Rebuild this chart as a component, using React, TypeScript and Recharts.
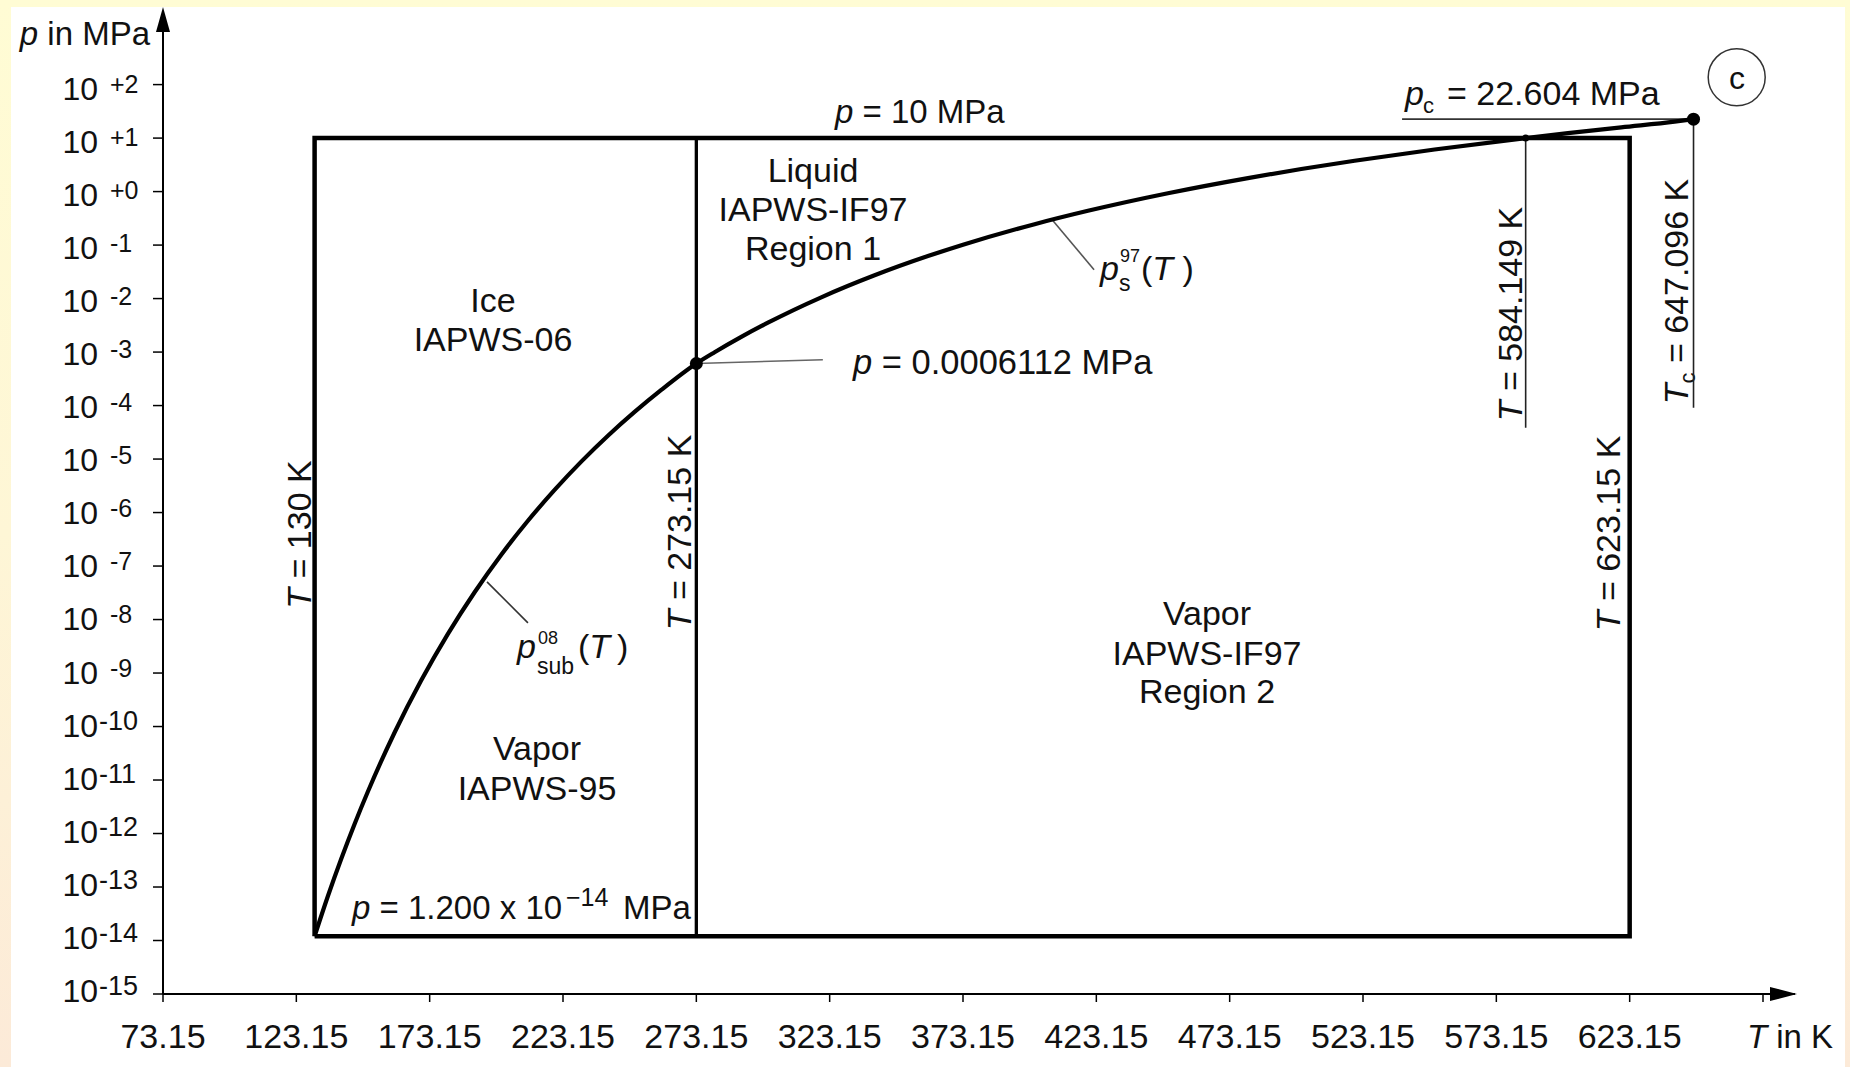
import React from 'react';
import { ComposedChart, Line, XAxis, YAxis, ReferenceDot, Customized } from 'recharts';

const FONT = '"Liberation Sans", Arial, Helvetica, sans-serif';
const INK = '#111';

// Phase boundary: sublimation curve (130 K .. triple point) + saturation curve (.. critical point); T in K, p in MPa
const curveT = [130, 135, 140, 145, 150, 160, 170, 180, 190, 200, 210, 220, 230, 240, 250, 260, 273.16,
  280, 290, 300, 320, 340, 360, 373.15, 400, 420, 450, 480, 500, 520, 550, 584.149, 600, 620, 640, 647.096];
const curveP = [1.2e-14, 6.78e-14, 3.37e-13, 1.51e-12, 6.11e-12, 7.74e-11, 7.31e-10, 5.4e-9, 3.24e-8, 1.63e-7,
  7.02e-7, 2.65e-6, 8.95e-6, 2.73e-5, 7.6e-5, 1.96e-4, 6.112e-4,
  9.92e-4, 1.92e-3, 3.54e-3, 1.055e-2, 2.72e-2, 6.22e-2, 0.1014, 0.2458, 0.4373, 0.932, 1.79, 2.64, 3.77, 6.12,
  10.0, 12.35, 15.9, 20.27, 22.604];

// Validity box of the library: 130 K .. 623.15 K, 1.2e-14 MPa .. 10 MPa
const boxT = [130, 130, 623.15, 623.15, 130];
const boxP = [1.2e-14, 10, 10, 1.2e-14, 1.2e-14];

// T = 273.15 K divider
const dividerT = [273.15, 273.15];
const dividerP = [1.2e-14, 10];

// Marked points: triple point, 584.149 K at 10 MPa, critical point
const markT = [273.16, 584.149, 647.096];
const markP = [6.112e-4, 10, 22.604];

// Leader lines of annotations
const leadTripleT = [273.16, 320.6];
const leadTripleP = [6.112e-4, 7.2e-4];
const leadSubT = [194.65, 210];
const leadSubP = [5.07e-8, 8.67e-9];
const leadSatT = [406.5, 422.3];
const leadSatP = [0.3, 0.0347];
const lead584T = [584.149, 584.149];
const lead584P = [10, 3.85e-5];
const leadTcT = [647.096, 647.096];
const leadTcP = [22.604, 9.1e-5];
const leadPcT = [537.8, 647.096];
const leadPcP = [22.604, 22.604];

// Axes
const xTicks = [73.15, 123.15, 173.15, 223.15, 273.15, 323.15, 373.15, 423.15, 473.15, 523.15, 573.15, 623.15, 673.15];
const xTickLabels = ['73.15', '123.15', '173.15', '223.15', '273.15', '323.15', '373.15', '423.15', '473.15', '523.15', '573.15', '623.15', ''];
const yTicks = [1e-15, 1e-14, 1e-13, 1e-12, 1e-11, 1e-10, 1e-9, 1e-8, 1e-7, 1e-6, 1e-5, 1e-4, 1e-3, 1e-2, 1e-1, 1e0, 1e1, 1e2];
const yTickExp = ['-15', '-14', '-13', '-12', '-11', '-10', '-9', '-8', '-7', '-6', '-5', '-4', '-3', '-2', '-1', '+0', '+1', '+2'];

const rows = (ts: number[], ps: number[]) => ts.map((T, i) => ({ T, p: ps[i] }));

const XTick = (props: any) => {
  const { x, index } = props;
  const label = xTickLabels[index];
  if (!label) {
    return (
      <text x={x + 27} y={1048} textAnchor="middle" fontFamily={FONT} fontSize={33} fill={INK}>
        <tspan fontStyle="italic">T</tspan> in K
      </text>
    );
  }
  return (
    <text x={x} y={1048} textAnchor="middle" fontFamily={FONT} fontSize={34} fill={INK}>
      {label}
    </text>
  );
};

const YTick = (props: any) => {
  const { y, index } = props;
  const e = yTickExp[index];
  const base = y + 8 + index * 0.42;
  const wide = e.length > 2;
  return (
    <text x={98} y={base} textAnchor="end" fontFamily={FONT} fill={INK} fontSize={32}>
      10
      <tspan x={wide ? 99 : 110} y={base - 7} textAnchor="start" fontSize={wide ? 27 : 25}>{e}</tspan>
    </text>
  );
};

const UpArrow = (props: any) => {
  const { cx, cy } = props;
  return <polygon points={`${cx},${cy - 8} ${cx - 7},${cy + 17} ${cx + 7},${cy + 17}`} fill="#000" />;
};
const RightArrow = (props: any) => {
  const { cx, cy } = props;
  return <polygon points={`${cx + 2},${cy} ${cx - 25},${cy - 7} ${cx - 25},${cy + 7}`} fill="#000" />;
};

const Annotations = () => (
  <g fontFamily={FONT} fill={INK}>
    <text x={150} y={45} fontSize={33} textAnchor="end">
      <tspan fontStyle="italic">p</tspan> in MPa
    </text>

    {/* region labels */}
    <text x={493} y={312} fontSize={34} textAnchor="middle">Ice</text>
    <text x={493} y={351} fontSize={34} textAnchor="middle">IAPWS-06</text>
    <text x={813} y={182} fontSize={34} textAnchor="middle">Liquid</text>
    <text x={813} y={221} fontSize={34} textAnchor="middle">IAPWS-IF97</text>
    <text x={813} y={260} fontSize={34} textAnchor="middle">Region 1</text>
    <text x={537} y={760} fontSize={34} textAnchor="middle">Vapor</text>
    <text x={537} y={800} fontSize={34} textAnchor="middle">IAPWS-95</text>
    <text x={1207} y={625} fontSize={34} textAnchor="middle">Vapor</text>
    <text x={1207} y={665} fontSize={34} textAnchor="middle">IAPWS-IF97</text>
    <text x={1207} y={703} fontSize={34} textAnchor="middle">Region 2</text>

    {/* pressure annotations */}
    <text x={835} y={123} fontSize={33}>
      <tspan fontStyle="italic">p</tspan> = 10 MPa
    </text>
    <text x={853} y={374} fontSize={34.5}>
      <tspan fontStyle="italic">p</tspan> = 0.0006112 MPa
    </text>
    <text x={352} y={919} fontSize={33}>
      <tspan fontStyle="italic">p</tspan> = 1.200 x 10
      <tspan x={566} y={906} fontSize={25}>{'\u221214'}</tspan>
      <tspan x={623} y={919}>MPa</tspan>
    </text>

    <text x={1405} y={105} fontSize={34}>
      <tspan fontStyle="italic">p</tspan>
      <tspan x={1423} y={113} fontSize={22}>c</tspan>
      <tspan x={1447} y={105}>= 22.604 MPa</tspan>
    </text>

    {/* curve labels */}
    <text x={517} y={658} fontSize={34}>
      <tspan fontStyle="italic">p</tspan>
      <tspan x={538} y={644} fontSize={18}>08</tspan>
      <tspan x={537} y={674} fontSize={23}>sub</tspan>
      <tspan x={578} y={658}>(</tspan>
      <tspan fontStyle="italic">T</tspan>
      <tspan>{'\u2009'})</tspan>
    </text>

    <text x={1100} y={280} fontSize={34}>
      <tspan fontStyle="italic">p</tspan>
      <tspan x={1120} y={262} fontSize={18}>97</tspan>
      <tspan x={1119} y={291} fontSize={23}>s</tspan>
      <tspan x={1141} y={280}>(</tspan>
      <tspan fontStyle="italic">T</tspan>
      <tspan> )</tspan>
    </text>

    {/* rotated temperature labels */}
    <text x={311} y={534.5} fontSize={34} textAnchor="middle" transform="rotate(-90 311 534.5)">
      <tspan fontStyle="italic">T</tspan> = 130 K
    </text>
    <text x={691} y={532.5} fontSize={34} textAnchor="middle" transform="rotate(-90 691 532.5)">
      <tspan fontStyle="italic">T</tspan> = 273.15 K
    </text>
    <text x={1620} y={533.5} fontSize={34} textAnchor="middle" transform="rotate(-90 1620 533.5)">
      <tspan fontStyle="italic">T</tspan> = 623.15 K
    </text>
    <text x={1522} y={314} fontSize={34} textAnchor="middle" transform="rotate(-90 1522 314)">
      <tspan fontStyle="italic">T</tspan> = 584.149 K
    </text>
    <text x={1688} y={291.5} fontSize={34} textAnchor="middle" transform="rotate(-90 1688 291.5)">
      <tspan fontStyle="italic">T</tspan>
      <tspan fontSize={22} dy={7}>c</tspan>
      <tspan dy={-7}> = 647.096 K</tspan>
    </text>

    {/* critical point marker */}
    <circle cx={1736.7} cy={77.3} r={28.5} fill="none" stroke="#333" strokeWidth={1.5} />
    <text x={1737} y={89} fontSize={32} textAnchor="middle">c</text>
  </g>
);

const leaders = [
  rows(leadTripleT, leadTripleP),
  rows(leadSubT, leadSubP),
  rows(leadSatT, leadSatP),
  rows(lead584T, lead584P),
  rows(leadTcT, leadTcP),
  rows(leadPcT, leadPcP),
];
const leaderColor = ['#666', '#333', '#555', '#222', '#222', '#333'];

export default function App() {
  return (
    <div style={{ position: 'absolute', left: 0, top: 0, width: 1850, height: 1067,
      background: 'linear-gradient(to bottom, #FFFCD4 0%, #FEF6D6 50%, #FCEAD8 100%)' }}>
      <div style={{ position: 'absolute', left: 11, top: 7, width: 1834, height: 1060, background: '#fff' }} />
      <div style={{ position: 'absolute', left: 0, top: 0 }}>
        <ComposedChart width={1850} height={1067} margin={{ top: 15, right: 55, bottom: 0, left: 0 }}>
          <XAxis type="number" dataKey="T" domain={[73.15, 685.15]} ticks={xTicks} interval={0}
            allowDataOverflow height={73} tickSize={8}
            axisLine={{ stroke: '#000', strokeWidth: 2 }} tickLine={{ stroke: '#000', strokeWidth: 1.5 }}
            tick={<XTick />} />
          <YAxis type="number" dataKey="p" scale="log" domain={[1e-15, 2000]} ticks={yTicks} interval={0}
            allowDataOverflow width={163} tickSize={10}
            axisLine={{ stroke: '#000', strokeWidth: 2 }} tickLine={{ stroke: '#000', strokeWidth: 1.5 }}
            tick={<YTick />} />

          <Customized component={<Annotations />} />

          <Line data={rows(boxT, boxP)} dataKey="p" type="linear" stroke="#000" strokeWidth={4.5}
            strokeLinejoin="miter" dot={false} activeDot={false} isAnimationActive={false} legendType="none" />
          <Line data={rows(dividerT, dividerP)} dataKey="p" type="linear" stroke="#000" strokeWidth={3.3}
            dot={false} activeDot={false} isAnimationActive={false} legendType="none" />
          {leaders.map((d, i) => (
            <Line key={i} data={d} dataKey="p" type="linear" stroke={leaderColor[i]} strokeWidth={1.6}
              dot={false} activeDot={false} isAnimationActive={false} legendType="none" />
          ))}
          <Line data={rows(curveT, curveP)} dataKey="p" type="monotone" stroke="#000" strokeWidth={4.2}
            dot={false} activeDot={false} isAnimationActive={false} legendType="none" />

          {markT.map((T, i) => (
            <ReferenceDot key={i} x={T} y={markP[i]} r={i === 1 ? 3.5 : 6.5} fill="#000" stroke="none" ifOverflow="visible" />
          ))}
          <ReferenceDot x={73.15} y={2000} r={1} shape={<UpArrow />} ifOverflow="visible" />
          <ReferenceDot x={685.15} y={1e-15} r={1} shape={<RightArrow />} ifOverflow="visible" />
        </ComposedChart>
      </div>
    </div>
  );
}
